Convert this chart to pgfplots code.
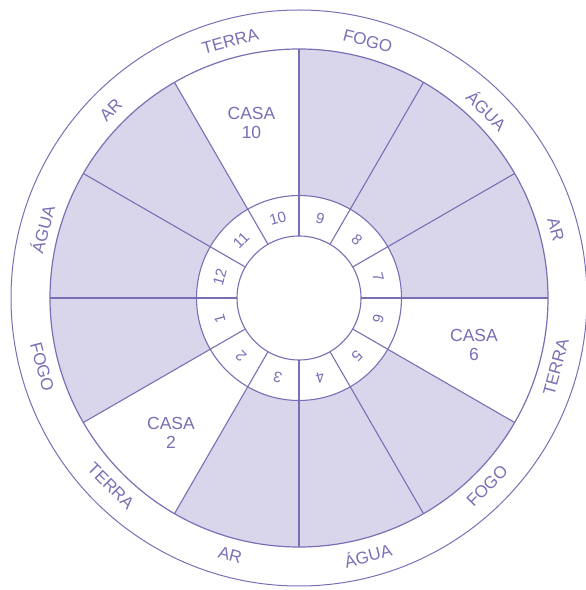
\documentclass[border=0pt]{standalone}
\usepackage{pgfplots}
\pgfplotsset{compat=1.18}
\usepackage{fontspec}
\setmainfont{Liberation Sans}
\definecolor{ln}{HTML}{7870B5}
\definecolor{fl}{HTML}{D9D6EB}
\begin{document}
\begin{tikzpicture}
\begin{axis}[x=1pt,y=1pt,xmin=-299,xmax=287,ymin=-292,ymax=298,hide axis,clip=true,
  every axis plot/.append style={ln,line width=1.1pt,no markers}]
% shaded annulus
\fill[fl] (axis cs:0,0) circle[radius=249];
% white houses (10, 6, 2)
\begin{scope}
\clip (axis cs:0,0) -- (axis cs:0,262) -- (axis cs:-131,226.9) -- cycle;
\fill[white] (axis cs:0,0) circle[radius=249];
\end{scope}
\begin{scope}
\clip (axis cs:0,0) -- (axis cs:262,0) -- (axis cs:226.9,-131) -- cycle;
\fill[white] (axis cs:0,0) circle[radius=249];
\end{scope}
\begin{scope}
\clip (axis cs:0,0) -- (axis cs:-226.9,-131) -- (axis cs:-131,-226.9) -- cycle;
\fill[white] (axis cs:0,0) circle[radius=249];
\end{scope}
\fill[white] (axis cs:0,0) circle[radius=102.5];
% circles
\draw[ln,line width=1.1pt] (axis cs:0,0) circle[radius=62];
\draw[ln,line width=1.1pt] (axis cs:0,0) circle[radius=102.5];
\draw[ln,line width=1.2pt] (axis cs:0,0) circle[radius=249];
\draw[ln,line width=1pt] (axis cs:0,0) circle[radius=288];
% house cusps (angle, radius)
\addplot[data cs=polar] coordinates {(0,62) (0,249)};
\addplot[data cs=polar] coordinates {(30,62) (30,249)};
\addplot[data cs=polar] coordinates {(60,62) (60,249)};
\addplot[data cs=polar] coordinates {(90,62) (90,249)};
\addplot[data cs=polar] coordinates {(120,62) (120,249)};
\addplot[data cs=polar] coordinates {(150,62) (150,249)};
\addplot[data cs=polar] coordinates {(180,62) (180,249)};
\addplot[data cs=polar] coordinates {(210,62) (210,249)};
\addplot[data cs=polar] coordinates {(240,62) (240,249)};
\addplot[data cs=polar] coordinates {(270,62) (270,249)};
\addplot[data cs=polar] coordinates {(300,62) (300,249)};
\addplot[data cs=polar] coordinates {(330,62) (330,249)};
% element labels
\tikzset{el/.style={text=ln,inner sep=0pt,font=\fontsize{17}{18}\selectfont},
         nm/.style={text=ln,inner sep=0pt,font=\fontsize{15}{16}\selectfont},
         cs/.style={text=ln,inner sep=0pt,align=center,font=\fontsize{17.5}{19}\selectfont}}
\node[el,rotate=-75] at (axis cs:256.9,68.8) {AR};
\node[el,rotate=-45] at (axis cs:188.1,188.1) {ÁGUA};
\node[el,rotate=-15] at (axis cs:68.8,256.9) {FOGO};
\node[el,rotate=15] at (axis cs:-68.8,256.9) {TERRA};
\node[el,rotate=45] at (axis cs:-188.1,188.1) {AR};
\node[el,rotate=75] at (axis cs:-256.9,68.8) {ÁGUA};
\node[el,rotate=-75] at (axis cs:-256.9,-68.8) {FOGO};
\node[el,rotate=-45] at (axis cs:-188.1,-188.1) {TERRA};
\node[el,rotate=-15] at (axis cs:-68.8,-256.9) {AR};
\node[el,rotate=15] at (axis cs:68.8,-256.9) {ÁGUA};
\node[el,rotate=45] at (axis cs:188.1,-188.1) {FOGO};
\node[el,rotate=75] at (axis cs:256.9,-68.8) {TERRA};
% house numbers
\node[nm,rotate=105] at (axis cs:-79.2,-21.2) {1};
\node[nm,rotate=135] at (axis cs:-58.0,-58.0) {2};
\node[nm,rotate=165] at (axis cs:-21.2,-79.2) {3};
\node[nm,rotate=195] at (axis cs:21.2,-79.2) {4};
\node[nm,rotate=225] at (axis cs:58.0,-58.0) {5};
\node[nm,rotate=255] at (axis cs:79.2,-21.2) {6};
\node[nm,rotate=-75] at (axis cs:79.2,21.2) {7};
\node[nm,rotate=-45] at (axis cs:58.0,58.0) {8};
\node[nm,rotate=-15] at (axis cs:21.2,79.2) {9};
\node[nm,rotate=15] at (axis cs:-21.2,79.2) {10};
\node[nm,rotate=45] at (axis cs:-58.0,58.0) {11};
\node[nm,rotate=75] at (axis cs:-79.2,21.2) {12};
% casa labels
\node[cs] at (axis cs:-47.5,175) {CASA\\10};
\node[cs] at (axis cs:175,-47) {CASA\\6};
\node[cs] at (axis cs:-128,-135) {CASA\\2};
\end{axis}
\pgfresetboundingbox
\useasboundingbox (current axis.south west) rectangle (current axis.north east);
\end{tikzpicture}
\end{document}
